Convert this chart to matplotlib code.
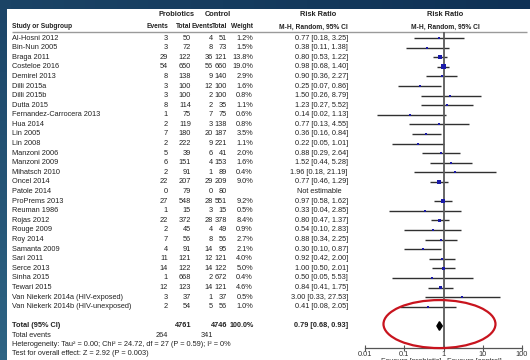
import matplotlib.pyplot as plt
import matplotlib.patches as mpatches
from matplotlib.colors import LinearSegmentedColormap
from matplotlib.transforms import ScaledTranslation
import numpy as np

plt.rcParams["font.family"] = ["Liberation Sans", "DejaVu Sans"]

# Study-level data (probiotic vs control)
studies = [
    "Al-Hosni 2012", "Bin-Nun 2005", "Braga 2011", "Costeloe 2016",
    "Demirel 2013", "Dilli 2015a", "Dilli 2015b", "Dutta 2015",
    "Fernandez-Carrocera 2013", "Hua 2014", "Lin 2005", "Lin 2008",
    "Manzoni 2006", "Manzoni 2009", "Mihatsch 2010", "Oncel 2014",
    "Patole 2014", "ProPrems 2013", "Reuman 1986", "Rojas 2012",
    "Rouge 2009", "Roy 2014", "Samanta 2009", "Sari 2011", "Serce 2013",
    "Sinha 2015", "Tewari 2015", "Van Niekerk 2014a (HIV-exposed)",
    "Van Niekerk 2014b (HIV-unexposed)",
]
probiotic_events = [3, 3, 29, 54, 8, 3, 3, 8, 1, 2, 7, 2, 5, 6, 2, 22, 0,
                    27, 1, 22, 2, 7, 4, 11, 14, 1, 12, 3, 2]
probiotic_totals = [50, 72, 122, 650, 138, 100, 100, 114, 75, 119, 180, 222,
                    39, 151, 91, 207, 79, 548, 15, 372, 45, 56, 91, 121, 122,
                    668, 123, 37, 54]
control_events = [4, 8, 36, 56, 9, 12, 2, 2, 7, 3, 20, 9, 6, 4, 1, 29, 0,
                  28, 3, 28, 4, 8, 14, 12, 14, 2, 14, 1, 5]
control_totals = [51, 73, 121, 660, 140, 100, 100, 35, 75, 138, 187, 221,
                  41, 153, 89, 209, 80, 551, 15, 378, 49, 56, 95, 121, 122,
                  672, 121, 37, 56]
weights = [1.2, 1.5, 13.8, 19.0, 2.9, 1.6, 0.8, 1.1, 0.6, 0.8, 3.5, 1.1,
           2.0, 1.6, 0.4, 9.0, np.nan, 9.2, 0.5, 8.4, 0.9, 2.7, 2.1, 4.0,
           5.0, 0.4, 4.6, 0.5, 1.0]
risk_ratio = [0.77, 0.38, 0.80, 0.98, 0.90, 0.25, 1.50, 1.23, 0.14, 0.77,
              0.36, 0.22, 0.88, 1.52, 1.96, 0.77, np.nan, 0.97, 0.33, 0.80,
              0.54, 0.88, 0.30, 0.92, 1.00, 0.50, 0.84, 3.00, 0.41]
ci_low = [0.18, 0.11, 0.53, 0.68, 0.36, 0.07, 0.26, 0.27, 0.02, 0.13, 0.16,
          0.05, 0.29, 0.44, 0.18, 0.46, np.nan, 0.58, 0.04, 0.47, 0.10, 0.34,
          0.10, 0.42, 0.50, 0.05, 0.41, 0.33, 0.08]
ci_high = [3.25, 1.38, 1.22, 1.40, 2.27, 0.86, 8.79, 5.52, 1.13, 4.55, 0.84,
           1.01, 2.64, 5.28, 21.19, 1.29, np.nan, 1.62, 2.85, 1.37, 2.83,
           2.25, 0.87, 2.00, 2.01, 5.53, 1.75, 27.53, 2.05]

# Pooled result
total_probiotic = 4761
total_control = 4746
pooled_rr, pooled_low, pooled_high = 0.79, 0.68, 0.93
events_probiotic_sum = 264
events_control_sum = 341
heterogeneity_text = ("Heterogeneity: Tau\u00b2 = 0.00; Chi\u00b2 = 24.72, df = 27 "
                      "(P = 0.59); I\u00b2 = 0%")
overall_text = "Test for overall effect: Z = 2.92 (P = 0.003)"

axis_ticks = [0.01, 0.1, 1, 10, 100]
axis_tick_labels = ["0.01", "0.1", "1", "10", "100"]

W, H = 530, 360
ROW0_PX, ROW_PX = 38, 9.6
FS = 5.3
FS_HDR = 4.8
TXT = "#222222"


def row_of(px):
    return (px - ROW0_PX) / ROW_PX


fig = plt.figure(figsize=(W / 100, H / 100), dpi=100)
fig.patch.set_facecolor("white")

# dark frame: band along the top, strip down the left side
band = fig.add_axes([0, 1 - 9 / H, 1, 9 / H])
band.imshow(np.linspace(0, 1, 50).reshape(1, -1), aspect="auto",
            cmap=LinearSegmentedColormap.from_list("band", ["#1b4466", "#0f3155"]))
band.axis("off")
strip = fig.add_axes([0, 0, 7 / W, 1 - 9 / H])
strip.imshow(np.linspace(0, 1, 50).reshape(-1, 1), aspect="auto",
             cmap=LinearSegmentedColormap.from_list("strip", ["#1c4568", "#2e6484"]))
strip.axis("off")

# table axes: x in pixels, y in row units
ax = fig.add_axes([0, 0, 1, 1])
ax.set_xlim(0, W)
ax.set_ylim(row_of(H), row_of(0))
ax.axis("off")
ax.patch.set_visible(False)

X_NAME = 12
X_EV1, X_TOT1, X_EV2, X_TOT2, X_WT, X_CI = 168, 191, 213, 227, 253, 348
X_FOREST = 445

# headers
hdr1, hdr2 = row_of(15), row_of(27)
bold = dict(fontsize=FS, fontweight="bold", color=TXT, va="center")
sub = dict(fontsize=FS_HDR, fontweight="bold", color=TXT, va="center")
ax.text((X_EV1 + X_TOT1) / 2 - 3, hdr1, "Probiotics", ha="center", **bold)
ax.text((X_EV2 + X_TOT2) / 2 - 2, hdr1, "Control", ha="center", **bold)
ax.text(X_CI - 30, hdr1, "Risk Ratio", ha="center", **bold)
ax.text(X_FOREST, hdr1, "Risk Ratio", ha="center", **bold)
ax.text(X_NAME, hdr2, "Study or Subgroup", ha="left", **sub)
ax.text(X_EV1, hdr2, "Events", ha="right", **sub)
ax.text(X_TOT1, hdr2, "Total", ha="right", **sub)
ax.text(X_EV2, hdr2, "Events", ha="right", **sub)
ax.text(X_TOT2, hdr2, "Total", ha="right", **sub)
ax.text(X_WT, hdr2, "Weight", ha="right", **sub)
ax.text(X_CI, hdr2, "M-H, Random, 95% CI", ha="right", **sub)
ax.text(X_FOREST, hdr2, "M-H, Random, 95% CI", ha="center", **sub)
ax.hlines(row_of(32), X_NAME, 527, color="#9a9a9a", lw=1.0, snap=True)

norm = dict(fontsize=FS, color=TXT, va="center")
rows = np.arange(len(studies))
for i, name in enumerate(studies):
    ax.text(X_NAME, i, name, ha="left", **norm)
    ax.text(X_EV1, i, str(probiotic_events[i]), ha="right", **norm)
    ax.text(X_TOT1, i, str(probiotic_totals[i]), ha="right", **norm)
    ax.text(X_EV2, i, str(control_events[i]), ha="right", **norm)
    ax.text(X_TOT2, i, str(control_totals[i]), ha="right", **norm)
    if np.isnan(risk_ratio[i]):
        ax.text(X_CI - 6, i, "Not estimable", ha="right", **norm)
    else:
        ax.text(X_WT, i, "{:.1f}%".format(weights[i]), ha="right", **norm)
        ax.text(X_CI, i, "{:.2f} [{:.2f}, {:.2f}]".format(
            risk_ratio[i], ci_low[i], ci_high[i]), ha="right", **norm)

# pooled rows
total_row = len(studies) + 1
ax.text(X_NAME, total_row, "Total (95% CI)", ha="left", **bold)
ax.text(X_TOT1, total_row, str(total_probiotic), ha="right", **bold)
ax.text(X_TOT2, total_row, str(total_control), ha="right", **bold)
ax.text(X_WT + 1, total_row, "100.0%", ha="right", fontsize=FS - 0.2,
        fontweight="bold", color=TXT, va="center")
ax.text(X_CI, total_row, "{:.2f} [{:.2f}, {:.2f}]".format(
    pooled_rr, pooled_low, pooled_high), ha="right", **bold)
ax.text(X_NAME, total_row + 0.95, "Total events", ha="left", **norm)
ax.text(X_EV1, total_row + 0.95, str(events_probiotic_sum), ha="right", **norm)
ax.text(X_EV2, total_row + 0.95, str(events_control_sum), ha="right", **norm)
ax.text(X_NAME, total_row + 1.9, heterogeneity_text, ha="left", **norm)
ax.text(X_NAME, total_row + 2.85, overall_text, ha="left", **norm)

# forest plot on a log axis
fa = fig.add_axes([365 / W, 1 - 348 / H, (522 - 365) / W, (348 - 32) / H])
fa.set_xscale("log")
fa.set_xlim(0.01, 100)
y_bottom, y_top = row_of(348), row_of(32)
fa.set_ylim(y_bottom, y_top)
fa.patch.set_visible(False)
for side in ("top", "left", "right"):
    fa.spines[side].set_visible(False)
fa.spines["bottom"].set_color("#555555")
fa.spines["bottom"].set_linewidth(0.9)
fa.set_yticks([])
fa.set_xticks(axis_ticks)
fa.set_xticklabels(axis_tick_labels)
fa.minorticks_off()
fa.tick_params(axis="x", direction="inout", length=4, width=0.8,
               color="#555555", labelsize=FS, labelcolor="#333333", pad=0)

# line of no effect
fa.vlines(1, y_bottom, y_top, color="#5a5a5a", lw=1.3, zorder=2.5, snap=True)

rr = np.array(risk_ratio)
lo = np.array(ci_low)
hi = np.array(ci_high)
w = np.array(weights)
ok = ~np.isnan(rr)
fa.hlines(rows[ok], lo[ok], hi[ok], color="#303030", lw=1.0, zorder=2,
          snap=True)
side_pt = np.maximum(0.85 * np.sqrt(w[ok]), 1.4)
fa.scatter(rr[ok], rows[ok], marker="s", s=side_pt ** 2, color="#1a1aa8",
           edgecolors="none", zorder=3)

# pooled estimate diamond
fa.fill([pooled_low, pooled_rr, pooled_high, pooled_rr],
        [total_row, total_row - 0.45, total_row, total_row + 0.45],
        color="black", zorder=3)

# red ring highlighting the pooled estimate
ring = mpatches.Ellipse(
    (0, 0), 1.12, 0.48, fill=False, edgecolor="#c8141e", lw=1.6,
    transform=fig.dpi_scale_trans + ScaledTranslation(
        pooled_rr, total_row - 0.2, fa.transData),
    clip_on=False, zorder=4)
fa.add_patch(ring)

fa.text(0.9, row_of(362), "Favours [probiotic]", ha="right", va="center",
        fontsize=FS, color="#333333", clip_on=False)
fa.text(1.25, row_of(362), "Favours [control]", ha="left", va="center",
        fontsize=FS, color="#333333", clip_on=False)

fig.savefig("out.png", dpi=100)
